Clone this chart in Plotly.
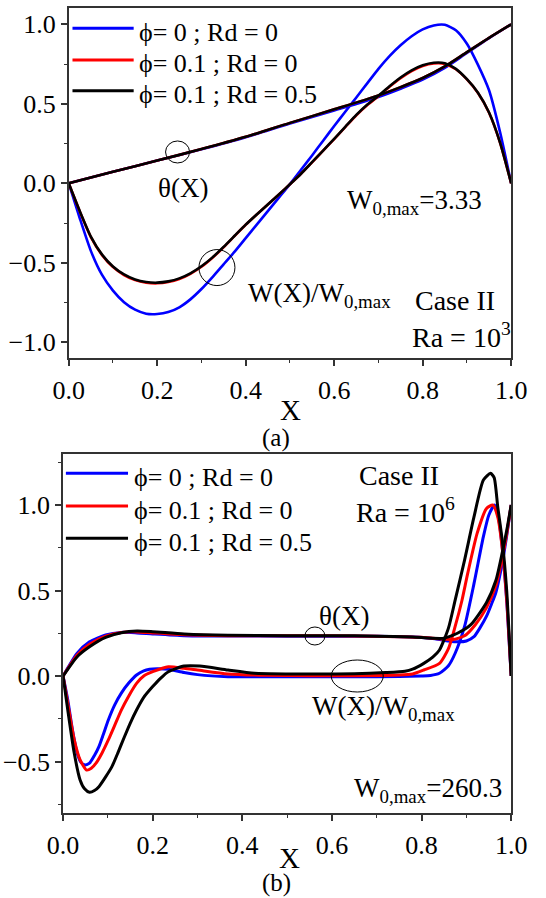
import plotly.graph_objects as go

FONT = "Liberation Serif"
BLUE, RED, BLACK = "#0000FF", "#FF0000", "#000000"

# ---------------- Panel (a): Ra = 10^3 ----------------
xa_w = [0, 0.025, 0.05, 0.075, 0.1, 0.125, 0.15, 0.175, 0.2, 0.225, 0.25, 0.275, 0.3, 0.325,
        0.35, 0.375, 0.4, 0.425, 0.45, 0.475, 0.5, 0.525, 0.55, 0.575, 0.6, 0.625, 0.65, 0.675,
        0.7, 0.725, 0.75, 0.775, 0.8, 0.825, 0.85, 0.875, 0.9, 0.925, 0.95, 0.975, 1.0]
wa_blue = [0, -0.22, -0.425, -0.575, -0.675, -0.748, -0.795, -0.82, -0.822, -0.81, -0.78, -0.73,
           -0.665, -0.59, -0.51, -0.43, -0.345, -0.26, -0.175, -0.09, -0.005, 0.085, 0.175,
           0.268, 0.36, 0.45, 0.54, 0.63, 0.72, 0.8, 0.868, 0.925, 0.968, 0.993, 0.997, 0.963,
           0.878, 0.745, 0.585, 0.32, 0]
wa_red = [0, -0.177, -0.338, -0.45, -0.527, -0.577, -0.609, -0.625, -0.629, -0.621, -0.602,
          -0.569, -0.525, -0.468, -0.402, -0.331, -0.261, -0.196, -0.133, -0.07, -0.006, 0.06,
          0.132, 0.205, 0.278, 0.353, 0.428, 0.493, 0.548, 0.607, 0.661, 0.706, 0.738, 0.754,
          0.751, 0.717, 0.653, 0.568, 0.444, 0.254, 0]
wa_black = [0, -0.175, -0.335, -0.447, -0.523, -0.573, -0.605, -0.621, -0.625, -0.617, -0.598,
            -0.566, -0.522, -0.466, -0.4, -0.33, -0.26, -0.196, -0.133, -0.07, -0.006, 0.06,
            0.133, 0.206, 0.28, 0.355, 0.43, 0.495, 0.55, 0.61, 0.665, 0.71, 0.742, 0.758,
            0.755, 0.72, 0.655, 0.57, 0.445, 0.255, 0]

xa_t = [0, 0.1, 0.2, 0.3, 0.4, 0.5, 0.6, 0.7, 0.75, 0.8, 0.85, 0.9, 0.95, 1.0]
ta_blue = [0, 0.072, 0.143, 0.214, 0.29, 0.376, 0.458, 0.543, 0.595, 0.652, 0.726, 0.82, 0.913, 1.0]
ta_red = [0, 0.072, 0.143, 0.215, 0.292, 0.38, 0.465, 0.553, 0.605, 0.662, 0.735, 0.825, 0.915, 1.0]
ta_black = [0, 0.072, 0.143, 0.215, 0.292, 0.38, 0.465, 0.553, 0.605, 0.662, 0.735, 0.825, 0.915, 1.0]

# ---------------- Panel (b): Ra = 10^6 ----------------
xb_w_blue = [0, 0.0105, 0.021, 0.0315, 0.04, 0.049, 0.059, 0.07, 0.08, 0.09, 0.101, 0.115, 0.13,
             0.147, 0.164, 0.18, 0.193, 0.21, 0.235, 0.27, 0.3, 0.368, 0.45, 0.55, 0.65, 0.75,
             0.8, 0.82, 0.84, 0.86, 0.875, 0.896, 0.917, 0.938, 0.95, 0.963, 0.972, 0.982,
             0.991, 1.0]
wb_blue = [0, -0.14, -0.316, -0.452, -0.505, -0.52, -0.51, -0.465, -0.413, -0.34, -0.257, -0.17,
           -0.10, -0.04, 0.006, 0.03, 0.039, 0.042, 0.039, 0.02, 0.008, -0.004, -0.005, -0.005,
           -0.005, -0.003, 0.0, 0.003, 0.016, 0.06, 0.133, 0.29, 0.54, 0.815, 0.94, 1.0, 0.92,
           0.70, 0.40, 0]

xb_w_red = [0, 0.0105, 0.025, 0.038, 0.0525, 0.063, 0.0735, 0.087, 0.101, 0.115, 0.13, 0.147,
            0.164, 0.18, 0.2, 0.235, 0.27, 0.3, 0.368, 0.45, 0.55, 0.65, 0.75, 0.78, 0.805, 0.84,
            0.86, 0.875, 0.89, 0.903, 0.924, 0.945, 0.959, 0.97, 0.98, 0.99, 1.0]
wb_red = [0, -0.16, -0.374, -0.491, -0.55, -0.54, -0.51, -0.45, -0.374, -0.29, -0.199, -0.115,
          -0.043, 0.0, 0.025, 0.054, 0.045, 0.035, 0.012, 0.004, 0.002, 0.002, 0.006, 0.012,
          0.035, 0.074, 0.16, 0.29, 0.44, 0.60, 0.834, 0.98, 1.0, 0.93, 0.75, 0.45, 0]

xb_w_black = [0, 0.0105, 0.025, 0.038, 0.048, 0.059, 0.07, 0.08, 0.095, 0.109, 0.123, 0.137,
              0.15, 0.164, 0.18, 0.2, 0.218, 0.235, 0.27, 0.305, 0.368, 0.427, 0.5, 0.567, 0.65,
              0.72, 0.763, 0.78, 0.805, 0.825, 0.84, 0.86, 0.875, 0.896, 0.917, 0.938, 0.954,
              0.962, 0.97, 0.98, 0.99, 1.0]
wb_black = [0, -0.199, -0.452, -0.608, -0.66, -0.68, -0.67, -0.647, -0.59, -0.53, -0.445, -0.355,
            -0.275, -0.199, -0.125, -0.062, -0.012, 0.025, 0.058, 0.058, 0.035, 0.016, 0.012,
            0.012, 0.013, 0.02, 0.028, 0.04, 0.074, 0.11, 0.152, 0.28, 0.444, 0.678, 0.93, 1.146,
            1.185, 1.16, 0.99, 0.795, 0.5, 0]

xb_t_blue = [0, 0.0315, 0.059, 0.095, 0.13, 0.165, 0.2, 0.27, 0.368, 0.5, 0.6, 0.7, 0.78, 0.83,
             0.86, 0.882, 0.9, 0.917, 0.93, 0.945, 0.956, 0.966, 0.98, 0.99, 1.0]
tb_blue = [0, 0.133, 0.20, 0.24, 0.255, 0.252, 0.246, 0.236, 0.234, 0.233, 0.233, 0.232, 0.228,
           0.218, 0.205, 0.20, 0.205, 0.23, 0.28, 0.35, 0.42, 0.49, 0.66, 0.82, 1.0]

xb_t_red = [0, 0.0315, 0.059, 0.095, 0.13, 0.165, 0.2, 0.27, 0.368, 0.5, 0.6, 0.7, 0.8, 0.85,
            0.87, 0.896, 0.92, 0.945, 0.966, 0.98, 0.99, 1.0]
tb_red = [0, 0.123, 0.186, 0.233, 0.255, 0.258, 0.252, 0.241, 0.236, 0.235, 0.235, 0.233, 0.226,
          0.215, 0.213, 0.235, 0.30, 0.40, 0.53, 0.69, 0.83, 1.0]

xb_t_black = [0, 0.0315, 0.059, 0.095, 0.13, 0.165, 0.2, 0.27, 0.368, 0.5, 0.6, 0.7, 0.78, 0.847,
              0.88, 0.91, 0.945, 0.966, 0.98, 0.99, 1.0]
tb_black = [0, 0.113, 0.171, 0.226, 0.253, 0.263, 0.259, 0.246, 0.238, 0.236, 0.236, 0.233,
            0.228, 0.22, 0.25, 0.30, 0.43, 0.56, 0.72, 0.85, 1.0]

legend_labels = ["ϕ= 0 ; Rd = 0", "ϕ= 0.1 ; Rd = 0", "ϕ= 0.1 ; Rd = 0.5"]
colors = [BLUE, RED, BLACK]

fig = go.Figure()

def add(x, y, color, xa, ya, width, smoothing):
    fig.add_trace(go.Scatter(x=x, y=y, mode="lines", xaxis=xa, yaxis=ya, showlegend=False,
                             line=dict(color=color, width=width, shape="spline", smoothing=smoothing),
                             hoverinfo="skip"))

# panel (a)
for (t, w, c) in [(ta_blue, wa_blue, BLUE), (ta_red, wa_red, RED), (ta_black, wa_black, BLACK)]:
    add(xa_t, t, c, "x", "y", 2.6, 0.8)
    add(xa_w, w, c, "x", "y", 2.6, 0.6)
# panel (b)
for (xt, t, xw, w, c) in [(xb_t_blue, tb_blue, xb_w_blue, wb_blue, BLUE),
                          (xb_t_red, tb_red, xb_w_red, wb_red, RED),
                          (xb_t_black, tb_black, xb_w_black, wb_black, BLACK)]:
    add(xt, t, c, "x2", "y2", 3, 0.6)
    add(xw, w, c, "x2", "y2", 3, 0.6)

W, H = 546, 898
def px(v): return v / W
def py(v): return 1 - v / H

axis_common = dict(showline=True, linecolor="#333333", linewidth=1.5, mirror=True,
                   ticks="outside", ticklen=6, tickwidth=1.5, tickcolor="#333333",
                   showgrid=False, zeroline=False, tickformat=".1f",
                   tickfont=dict(family=FONT, size=26, color="black"))
minor_x = dict(dtick=0.1, ticks="outside", ticklen=3, tickwidth=1.2, tickcolor="#333333")
minor_y = dict(dtick=0.25, tick0=0, ticks="outside", ticklen=3, tickwidth=1.2, tickcolor="#333333")

fig.update_layout(
    width=W, height=H, margin=dict(l=0, r=0, t=0, b=0),
    paper_bgcolor="white", plot_bgcolor="white", showlegend=False,
    xaxis=dict(axis_common, domain=[px(56), px(526)], range=[0, 1], dtick=0.2, anchor="y",
               ticklabelstandoff=2, minor=minor_x),
    yaxis=dict(axis_common, domain=[py(358.2), py(8.4)], range=[-1.1, 1.1], dtick=0.5, anchor="x",
               minor=minor_y),
    xaxis2=dict(axis_common, domain=[px(50), px(526)], range=[0, 1], dtick=0.2, anchor="y2",
                ticklabelstandoff=2, minor=minor_x),
    yaxis2=dict(axis_common, domain=[py(812.8), py(453.7)], range=[-0.8, 1.3], dtick=0.5, anchor="x2",
                tick0=0, minor=minor_y),
)

shapes = []
annotations = []

def text(x, y, s, size=26, xref="paper", yref="paper", xanchor="center", yanchor="middle"):
    annotations.append(dict(x=x, y=y, xref=xref, yref=yref, text=s, showarrow=False,
                            xanchor=xanchor, yanchor=yanchor,
                            font=dict(family=FONT, size=size, color="black")))

# legends (drawn manually to match the long sample lines)
for i, (lab, c) in enumerate(zip(legend_labels, colors)):
    ya_ = [28.3, 60, 90.7][i]
    yb_ = [473.3, 506, 538.3][i]
    shapes.append(dict(type="line", xref="paper", yref="paper", x0=px(60), x1=px(125),
                       y0=py(ya_), y1=py(ya_), line=dict(color=c, width=3)))
    shapes.append(dict(type="line", xref="paper", yref="paper", x0=px(53), x1=px(119),
                       y0=py(yb_), y1=py(yb_), line=dict(color=c, width=3)))
    text(px(129), py(ya_ + 4), lab, size=26, xanchor="left")
    text(px(123), py(yb_ + 4), lab, size=26, xanchor="left")

# panel (a) markers: circles and labels
shapes.append(dict(type="circle", xref="x", yref="y", xsizemode="pixel", ysizemode="pixel",
                   xanchor=0.246, yanchor=0.197, x0=-12, x1=12, y0=-11, y1=11,
                   line=dict(color="black", width=1)))
shapes.append(dict(type="circle", xref="x", yref="y", xsizemode="pixel", ysizemode="pixel",
                   xanchor=0.335, yanchor=-0.53, x0=-18, x1=18, y0=-18, y1=18,
                   line=dict(color="black", width=1)))
text(0.258, -0.03, "θ(X)", size=27, xref="x", yref="y")
text(0.40, -0.70, "W(X)/W<sub>0,max</sub>", size=27, xref="x", yref="y", xanchor="left")
text(0.6255, -0.12, "W<sub>0,max</sub>=3.33", size=27, xref="x", yref="y", xanchor="left")
text(0.778, -0.734, "Case II", size=28, xref="x", yref="y", xanchor="left")
text(0.772, -0.955, "Ra = 10<sup>3</sup>", size=28, xref="x", yref="y", xanchor="left")

# panel (b) markers
shapes.append(dict(type="circle", xref="x2", yref="y2", xsizemode="pixel", ysizemode="pixel",
                   xanchor=0.562, yanchor=0.234, x0=-10, x1=10, y0=-9, y1=9,
                   line=dict(color="black", width=1)))
shapes.append(dict(type="circle", xref="x2", yref="y2", xsizemode="pixel", ysizemode="pixel",
                   xanchor=0.6565, yanchor=0.0, x0=-26, x1=26, y0=-16, y1=16,
                   line=dict(color="black", width=1)))
text(0.567, 0.35, "θ(X)", size=27, xref="x2", yref="y2", xanchor="left")
text(0.55, -0.19, "W(X)/W<sub>0,max</sub>", size=27, xref="x2", yref="y2", xanchor="left")
text(0.645, -0.665, "W<sub>0,max</sub>=260.3", size=27, xref="x2", yref="y2", xanchor="left")
text(0.655, 1.175, "Case II", size=28, xref="x2", yref="y2", xanchor="left")
text(0.65, 0.97, "Ra = 10<sup>6</sup>", size=28, xref="x2", yref="y2", xanchor="left")

# axis titles and panel captions
text(px(292), py(410), "X", size=29)
text(px(276), py(438), "(a)", size=25)
text(px(291), py(858), "X", size=29)
text(px(277), py(883), "(b)", size=25)

fig.update_layout(shapes=shapes, annotations=annotations)
fig.write_html("out.html")
